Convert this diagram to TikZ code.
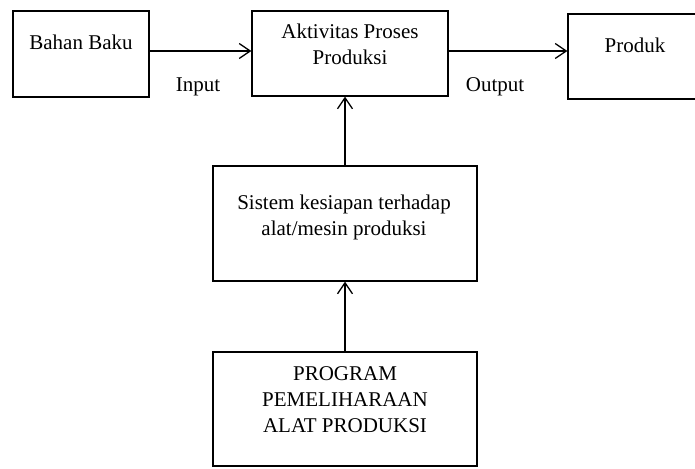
\documentclass[tikz,border=0pt]{standalone}
\usepackage{fontspec}
\setmainfont{Liberation Serif}
\usetikzlibrary{arrows.meta}
\begin{document}
\begin{tikzpicture}[x=1pt,y=-1pt,
  box/.style={draw,line width=1.3pt,inner sep=0pt},
  txt/.style={inner sep=0pt,align=center,anchor=base,font=\fontsize{21}{26}\selectfont},
  arr/.style={line width=1.3pt,-{Straight Barb[length=11pt,width=15pt,line width=1.3pt]}}]
\clip (0,0) rectangle (695,468);
\fill[white] (0,0) rectangle (695,468);
% boxes
\node[box,minimum width=136pt,minimum height=86pt] (bahan) at (81,54) {};
\node[box,minimum width=196pt,minimum height=85pt] (aktiv) at (350,53.5) {};
\node[box,minimum width=137pt,minimum height=85pt] (produk) at (636.5,56.5) {};
\node[box,minimum width=264pt,minimum height=115pt] (sistem) at (345,223.5) {};
\node[box,minimum width=264pt,minimum height=114pt] (program) at (345,409) {};
% texts
\node[txt] (tbahan) at (81,50) {Bahan Baku};
\node[txt] (taktiv) at (350,65) {Aktivitas Proses\\Produksi};
\node[txt] (tproduk) at (635,53) {Produk};
\node[txt] (tinput) at (198,92) {Input};
\node[txt] (toutput) at (495,92) {Output};
\node[txt] (tsistem) at (344,235) {Sistem kesiapan terhadap\\alat/mesin produksi};
\node[txt] (tprogram) at (345,432) {PROGRAM\\PEMELIHARAAN\\ALAT PRODUKSI};
% connectors
\draw[arr] (bahan.east |- 0,51) -- (aktiv.west |- 0,51);
\draw[arr] (aktiv.east |- 0,51) -- (produk.west |- 0,51);
\draw[arr] (sistem.north) -- (sistem.north |- aktiv.south);
\draw[arr] (program.north) -- (sistem.south);
\end{tikzpicture}
\end{document}
